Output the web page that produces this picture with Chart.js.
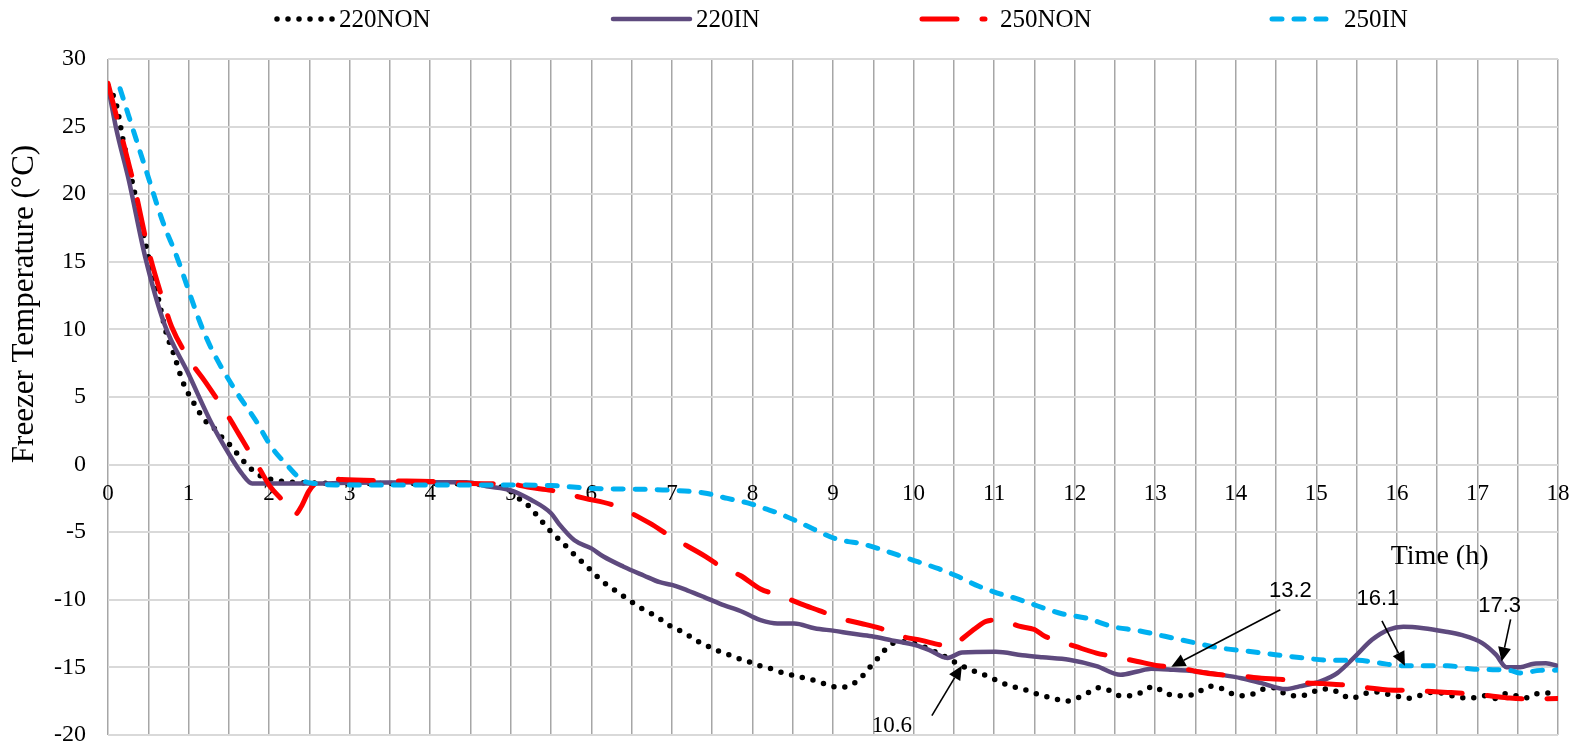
<!DOCTYPE html>
<html>
<head>
<meta charset="utf-8">
<script src="https://cdn.jsdelivr.net/npm/chart.js@4.4.0/dist/chart.umd.min.js"></script>
<style>
  html, body { margin: 0; padding: 0; background: #ffffff; }
  #wrap { width: 1584px; height: 748px; }
</style>
</head>
<body>
<div id="wrap"><canvas id="chart" width="1584" height="748"></canvas></div>
<script>
// Freezer temperature logs (hours, °C) for the four test runs
const hours220non = [0,0.1,0.19,0.32,0.5,0.62,0.73,0.81,0.93,1.06,1.2,1.34,1.43,1.54,1.63,1.74,1.85,1.97,2.11,2.3,3,4,4.7,4.9,5.0,5.12,5.23,5.33,5.43,5.52,5.63,5.73,5.83,5.94,6.04,6.15,6.27,6.39,6.51,6.64,6.77,6.9,7.02,7.15,7.27,7.4,7.54,7.68,7.81,7.96,8.1,8.23,8.38,8.51,8.65,8.79,8.94,9.08,9.22,9.34,9.44,9.53,9.63,9.75,9.9,10.05,10.25,10.42,10.54,10.68,10.81,10.94,11.08,11.22,11.36,11.5,11.61,11.75,11.88,12.02,12.16,12.29,12.43,12.57,12.7,12.83,12.98,13.1,13.25,13.38,13.53,13.66,13.8,13.93,14.07,14.22,14.34,14.49,14.62,14.76,14.9,15.03,15.17,15.3,15.43,15.57,15.71,15.85,15.98,16.13,16.27,16.4,16.55,16.68,16.8,16.94,17.08,17.21,17.34,17.48,17.62,17.74,17.88,18];
const temp220non = [28.0,26.7,23.9,20.4,15.4,12.4,9.6,8.3,6.1,4.6,3.3,2.55,1.9,1.3,0.6,-0.1,-0.7,-1.0,-1.2,-1.3,-1.4,-1.4,-1.5,-1.7,-2.0,-2.6,-3.1,-3.8,-4.5,-5.1,-5.7,-6.3,-6.9,-7.5,-8.1,-8.7,-9.2,-9.7,-10.2,-10.7,-11.1,-11.6,-12.1,-12.4,-12.9,-13.3,-13.7,-14.0,-14.3,-14.6,-14.9,-15.1,-15.4,-15.6,-15.8,-16.0,-16.3,-16.5,-16.3,-15.8,-15.1,-14.5,-13.8,-13.2,-13.1,-13.3,-13.8,-14.3,-14.7,-15.1,-15.4,-15.7,-16.1,-16.4,-16.6,-16.9,-17.1,-17.3,-17.5,-17.3,-16.9,-16.5,-16.7,-17.1,-17.1,-16.85,-16.4,-16.8,-17.1,-17.1,-16.85,-16.4,-16.5,-16.9,-17.1,-16.95,-16.6,-16.5,-17.0,-17.1,-17.0,-16.65,-16.6,-16.95,-17.3,-17.0,-16.8,-16.95,-17.1,-17.3,-17.1,-16.85,-16.9,-17.1,-17.25,-17.25,-17.1,-17.3,-16.95,-17.1,-17.25,-16.95,-16.9,-16.8];

const hours220in = [0,0.1,0.26,0.46,0.7,1.0,1.29,1.5,1.66,1.79,2.0,2.5,3.0,4.0,4.45,4.7,5.0,5.25,5.5,5.6,5.79,6.0,6.15,6.4,6.65,6.85,7.0,7.19,7.4,7.6,7.88,8.0,8.1,8.31,8.52,8.77,9.02,9.23,9.48,9.73,10.02,10.19,10.42,10.6,11.02,11.35,11.6,11.93,12.27,12.57,12.78,12.95,13.21,13.51,13.81,14.07,14.32,14.62,14.79,15.05,15.26,15.48,15.69,15.9,16.08,16.33,16.59,16.8,17.06,17.23,17.36,17.53,17.7,17.85,18];
const temp220in = [28.0,24.9,21.0,15.4,10.4,6.7,3.0,0.8,-0.65,-1.4,-1.4,-1.4,-1.35,-1.3,-1.3,-1.6,-1.9,-2.6,-3.6,-4.4,-5.6,-6.2,-6.8,-7.55,-8.2,-8.7,-8.9,-9.3,-9.8,-10.3,-10.9,-11.25,-11.5,-11.75,-11.75,-12.1,-12.3,-12.5,-12.7,-13.0,-13.35,-13.7,-14.3,-13.9,-13.85,-14.1,-14.25,-14.43,-14.9,-15.54,-15.3,-15.1,-15.17,-15.3,-15.54,-15.8,-16.16,-16.6,-16.4,-16.03,-15.42,-14.2,-12.96,-12.2,-12.0,-12.1,-12.34,-12.6,-13.2,-14.06,-14.98,-14.98,-14.73,-14.7,-14.9];

const hours250non = [0,0.13,0.33,0.5,0.7,0.79,1.04,1.21,1.5,1.63,1.89,2.01,2.16,2.32,2.4,2.49,2.57,2.7,2.9,3.5,4.0,4.5,5.0,5.25,5.5,5.92,6.27,6.73,6.98,7.42,7.65,7.85,8.1,8.35,8.6,8.83,9.1,9.35,9.58,9.85,10.1,10.35,10.5,10.6,10.77,10.9,11.04,11.15,11.31,11.5,11.63,11.76,12.01,12.27,12.53,12.78,13.04,13.27,13.51,13.81,14.02,14.32,14.58,14.79,15.09,15.31,15.56,15.86,16.12,16.38,16.63,16.89,17.15,17.4,17.66,18];
const temp250non = [28.2,25.2,20.5,15.9,11.8,10.2,7.5,6.1,3.5,2.2,-0.4,-1.6,-2.6,-3.7,-3.1,-2.0,-1.4,-1.0,-1.1,-1.2,-1.25,-1.4,-1.45,-1.7,-1.9,-2.5,-3.0,-4.35,-5.3,-6.8,-7.7,-8.2,-9.2,-9.7,-10.3,-10.8,-11.4,-11.75,-12.1,-12.7,-13.0,-13.35,-13.4,-12.9,-12.1,-11.6,-11.5,-11.6,-11.95,-12.2,-12.7,-12.96,-13.45,-13.94,-14.24,-14.56,-14.88,-14.98,-15.3,-15.54,-15.6,-15.8,-15.9,-16.1,-16.2,-16.28,-16.45,-16.65,-16.7,-16.77,-16.85,-16.95,-17.1,-17.27,-17.34,-17.3];

const hours250in = [0.15,0.46,0.69,0.84,1.15,1.29,1.58,1.83,2.03,2.24,2.41,2.57,2.82,3.5,4.5,5.5,6.0,6.73,7.0,7.4,7.69,7.98,8.15,8.31,8.52,8.77,9.02,9.19,9.31,9.56,9.81,10.06,10.31,10.56,10.81,11.04,11.27,11.5,11.84,12.14,12.48,12.78,13.12,13.47,13.81,14.15,14.49,14.84,15.18,15.52,15.78,16.08,16.38,16.63,16.93,17.19,17.4,17.53,17.78,18];
const temp250in = [27.8,22.0,17.8,15.6,10.4,8.5,5.5,3.3,1.3,-0.16,-1.15,-1.4,-1.5,-1.5,-1.5,-1.55,-1.76,-1.84,-1.9,-2.1,-2.5,-2.9,-3.25,-3.57,-4.1,-4.8,-5.46,-5.7,-5.8,-6.2,-6.7,-7.2,-7.7,-8.3,-9.0,-9.5,-9.9,-10.37,-11.03,-11.35,-12.0,-12.27,-12.7,-13.15,-13.57,-13.8,-14.06,-14.3,-14.48,-14.48,-14.68,-14.88,-14.88,-14.88,-15.12,-15.17,-15.22,-15.42,-15.22,-15.2];

const seriesNames = ['220NON', '220IN', '250NON', '250IN'];
const hourMin = 0, hourMax = 18, hourStep = 0.5;
const tempMin = -20, tempMax = 30, tempStep = 5;

// Callouts: the label is the time (h) the arrow points to on the named series
const callouts = [
  { label: '10.6', series: 0, font: '23px "Liberation Serif"', text: [-70, 60], tail: [-30, 50] },
  { label: '13.2', series: 2, font: '22px "Liberation Sans"', text: [119, -76], tail: [109, -57] },
  { label: '16.1', series: 3, font: '22px "Liberation Sans"', text: [-27, -67], tail: [-23, -45] },
  { label: '17.3', series: 1, font: '22px "Liberation Sans"', text: [-2, -55], tail: [9, -42] }
];

const toPoints = (hs, vs) => hs.map((h, i) => ({ x: h, y: vs[i] }));
const seriesHours = [hours220non, hours220in, hours250non, hours250in];
const seriesTemps = [temp220non, temp220in, temp250non, temp250in];

function valueAt(hs, vs, h) {
  for (let i = 1; i < hs.length; i++) {
    if (h <= hs[i]) {
      const f = (h - hs[i - 1]) / (hs[i] - hs[i - 1]);
      return vs[i - 1] + f * (vs[i] - vs[i - 1]);
    }
  }
  return vs[vs.length - 1];
}

const serif = '"Liberation Serif", "Times New Roman", serif';

// legend sample positions along the top strip
const legendSlots = [
  { x0: 277, x1: 333, tx: 339 },
  { x0: 613, x1: 690, tx: 696 },
  { x0: 922, x1: 985, tx: 1000 },
  { x0: 1272, x1: 1326, tx: 1344 }
];

const overlay = {
  id: 'overlay',
  afterDraw(chart) {
    const { ctx } = chart;
    const xs = chart.scales.x, ys = chart.scales.y;
    const sets = chart.data.datasets;

    // legend
    ctx.save();
    sets.forEach((ds, i) => {
      const s = legendSlots[i];
      const ly = 19;
      ctx.beginPath();
      ctx.strokeStyle = ds.borderColor;
      ctx.lineWidth = ds.borderWidth;
      ctx.lineCap = ds.borderCapStyle || 'butt';
      ctx.setLineDash(ds.borderDash || []);
      ctx.lineDashOffset = 0;
      ctx.moveTo(s.x0, ly);
      ctx.lineTo(s.x1, ly);
      ctx.stroke();
      ctx.setLineDash([]);
      ctx.fillStyle = '#000';
      ctx.font = '25px ' + serif;
      ctx.textAlign = 'left';
      ctx.textBaseline = 'middle';
      ctx.fillText(ds.label, s.tx, ly + 1);
    });
    ctx.restore();

    // y axis title
    ctx.save();
    ctx.translate(25, 304);
    ctx.rotate(-Math.PI / 2);
    ctx.fillStyle = '#000';
    ctx.font = '31px ' + serif;
    ctx.textAlign = 'center';
    ctx.textBaseline = 'middle';
    ctx.fillText('Freezer Temperature (°C)', 0, 0);
    ctx.restore();

    // x axis title, placed inside the plot below the zero line
    ctx.save();
    ctx.fillStyle = '#000';
    ctx.font = '28px ' + serif;
    ctx.textAlign = 'center';
    ctx.textBaseline = 'middle';
    ctx.fillText('Time (h)', xs.getPixelForValue(16.53), ys.getPixelForValue(-6.82));
    ctx.restore();

    // callout arrows
    callouts.forEach(c => {
      const h = parseFloat(c.label);
      const v = valueAt(seriesHours[c.series], seriesTemps[c.series], h);
      const px = xs.getPixelForValue(h), py = ys.getPixelForValue(v);
      const tx = px + c.tail[0], ty = py + c.tail[1];
      const ang = Math.atan2(py - ty, px - tx);
      const headLen = 14, headHalf = 6.5;
      const bx = px - headLen * Math.cos(ang), by = py - headLen * Math.sin(ang);
      ctx.save();
      ctx.strokeStyle = '#000';
      ctx.fillStyle = '#000';
      ctx.lineWidth = 1.6;
      ctx.beginPath();
      ctx.moveTo(tx, ty);
      ctx.lineTo(bx, by);
      ctx.stroke();
      ctx.beginPath();
      ctx.moveTo(px, py);
      ctx.lineTo(bx + headHalf * Math.sin(ang), by - headHalf * Math.cos(ang));
      ctx.lineTo(bx - headHalf * Math.sin(ang), by + headHalf * Math.cos(ang));
      ctx.closePath();
      ctx.fill();
      ctx.font = c.font;
      ctx.textAlign = 'center';
      ctx.textBaseline = 'middle';
      ctx.fillText(c.label, px + c.text[0], py + c.text[1]);
      ctx.restore();
    });
  }
};

new Chart(document.getElementById('chart'), {
  type: 'line',
  data: {
    datasets: [
      { label: seriesNames[0], data: toPoints(hours220non, temp220non), borderColor: '#000000',
        borderWidth: 5.5, borderDash: [0, 11], borderCapStyle: 'round', order: 4 },
      { label: seriesNames[1], data: toPoints(hours220in, temp220in), borderColor: '#5E4A7E',
        borderWidth: 4.5, borderCapStyle: 'round', order: 3 },
      { label: seriesNames[2], data: toPoints(hours250non, temp250non), borderColor: '#FF0000',
        borderWidth: 5, borderDash: [35, 25], borderCapStyle: 'round', order: 2 },
      { label: seriesNames[3], data: toPoints(hours250in, temp250in), borderColor: '#00B0F0',
        borderWidth: 5, borderDash: [10, 12], borderCapStyle: 'round', order: 1 }
    ]
  },
  options: {
    responsive: false,
    animation: false,
    devicePixelRatio: 1,
    layout: { padding: { top: 59, right: 26, bottom: 13, left: 0 } },
    elements: {
      point: { radius: 0, hoverRadius: 0 },
      line: { cubicInterpolationMode: 'monotone', borderJoinStyle: 'round', fill: false }
    },
    plugins: { legend: { display: false }, tooltip: { enabled: false } },
    scales: {
      x: {
        type: 'linear', min: hourMin, max: hourMax,
        position: { y: 0 },
        grid: { color: '#a6a6a6', lineWidth: 1.5, drawTicks: false },
        border: { display: false },
        ticks: {
          stepSize: hourStep, autoSkip: false, maxRotation: 0, padding: 18,
          color: '#000', font: { family: serif, size: 23, lineHeight: 1 },
          callback: v => Number.isInteger(v) ? String(v) : ''
        },
        // the axis sits on the zero line inside the plot, so it takes no layout room
        afterFit(scale) { scale.height = 0; scale.paddingLeft = 0; scale.paddingRight = 0; }
      },
      y: {
        min: tempMin, max: tempMax,
        grid: { color: '#d9d9d9', lineWidth: 2, drawTicks: false },
        border: { display: false },
        ticks: {
          stepSize: tempStep, padding: 22, color: '#000',
          font: { family: serif, size: 24, lineHeight: 1 },
          callback: v => String(v)
        },
        afterFit(scale) { scale.width = 108; scale.paddingTop = 0; scale.paddingBottom = 0; }
      }
    }
  },
  plugins: [overlay]
});
</script>
</body>
</html>
